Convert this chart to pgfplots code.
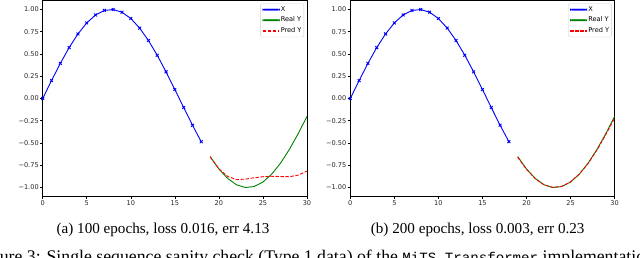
\documentclass[border=0pt]{standalone}
\usepackage{fontspec}
\setmainfont{Liberation Serif}
\setmonofont{Liberation Mono}
\newfontfamily\tickfamily{DejaVu Sans}
\usepackage{pgfplots}
\pgfplotsset{compat=1.18}
\definecolor{mplblue}{RGB}{0,0,255}
\definecolor{mplgreen}{RGB}{0,128,0}
\definecolor{mplred}{RGB}{255,0,0}
\newcommand{\tickfont}{\tickfamily\fontsize{6.6}{7.5}\selectfont}

\pgfplotsset{
  mystyle/.style={
    scale only axis,
    width=264.3bp, height=196bp,
    xmin=0, xmax=30, ymin=-1.1, ymax=1.1,
    axis line style={black, line width=0.6bp},
    tick style={black, line width=0.6bp},
    major tick length=2.6bp,
    tick align=outside,
    xtick pos=bottom, ytick pos=left,
    xtick={0,5,10,15,20,25,30},
    xticklabels={0,5,10,15,20,25,30},
    ytick={-1,-0.75,-0.5,-0.25,0,0.25,0.5,0.75,1},
    yticklabels={−1.00,−0.75,−0.50,−0.25,0.00,0.25,0.50,0.75,1.00},
    ticklabel style={font=\tickfont, text=black!85, inner sep=1.2bp},
    legend cell align=left,
    legend style={at={(1,1)}, xshift=-3bp, yshift=-3bp, anchor=north east,
      draw=black!18, rounded corners=1.5bp, fill=white,
      font=\tickfont, inner xsep=1.5bp, inner ysep=2bp, row sep=2.6bp,
      nodes={inner sep=0.8bp}},
  },
  legX/.style={legend image code/.code={\fill[mplblue] (0bp,-0.65bp) rectangle (16.5bp,0.65bp);}},
  legR/.style={legend image code/.code={\fill[mplgreen] (0bp,-0.65bp) rectangle (16.5bp,0.65bp);}},
  legP/.style={legend image code/.code={\draw[mplred, line width=1.3bp, dash pattern=on 3.4bp off 1.6bp] (0bp,0bp) -- (16.5bp,0bp);}},
}

\begin{document}
\begin{tikzpicture}
\useasboundingbox (0,0) rectangle (640bp,-258bp);
\clip (0,0) rectangle (640bp,-258bp);

% ---------- (a) ----------
\begin{axis}[mystyle, at={(42.7bp,-196.5bp)}, anchor=south west]
\addlegendimage{legX}
\addlegendentry{X}
\addlegendimage{legR}
\addlegendentry{Real Y}
\addlegendimage{legP}
\addlegendentry{Pred Y}
\addplot[mplblue, line width=0.9bp, mark=x, mark size=2bp, forget plot] coordinates {
(0,0.0000) (1,0.2013) (2,0.3944) (3,0.5713) (4,0.7248) (5,0.8486) (6,0.9378)
(7,0.9884) (8,0.9987) (9,0.9685) (10,0.8978) (11,0.7908) (12,0.6514)
(13,0.4853) (14,0.2994) (15,0.1012) (16,-0.1012) (17,-0.2994) (18,-0.4853)};
\addplot[mplgreen, line width=0.9bp, forget plot] coordinates {
(19,-0.6514) (20,-0.7908) (21,-0.8978) (22,-0.9685) (23,-0.9987) (24,-0.9884)
(25,-0.9378) (26,-0.8486) (27,-0.7248) (28,-0.5713) (29,-0.3944) (30,-0.2013)};
\addplot[mplred, line width=0.9bp, dash pattern=on 3.4bp off 1.6bp, forget plot] coordinates {
(19,-0.655) (20,-0.790) (21,-0.875) (22,-0.910) (23,-0.905) (24,-0.890)
(25,-0.878) (26,-0.873) (27,-0.876) (28,-0.878) (29,-0.860) (30,-0.815)};
\end{axis}

% ---------- (b) ----------
\begin{axis}[mystyle, at={(350.3bp,-196.5bp)}, anchor=south west]
\addlegendimage{legX}
\addlegendentry{X}
\addlegendimage{legR}
\addlegendentry{Real Y}
\addlegendimage{legP}
\addlegendentry{Pred Y}
\addplot[mplblue, line width=0.9bp, mark=x, mark size=2bp, forget plot] coordinates {
(0,0.0000) (1,0.2013) (2,0.3944) (3,0.5713) (4,0.7248) (5,0.8486) (6,0.9378)
(7,0.9884) (8,0.9987) (9,0.9685) (10,0.8978) (11,0.7908) (12,0.6514)
(13,0.4853) (14,0.2994) (15,0.1012) (16,-0.1012) (17,-0.2994) (18,-0.4853)};
\addplot[mplgreen, line width=0.9bp, forget plot] coordinates {
(19,-0.6514) (20,-0.7908) (21,-0.8978) (22,-0.9685) (23,-0.9987) (24,-0.9884)
(25,-0.9378) (26,-0.8486) (27,-0.7248) (28,-0.5713) (29,-0.3944) (30,-0.2013)};
\addplot[mplred, line width=0.9bp, dash pattern=on 3.4bp off 1.6bp, forget plot] coordinates {
(19,-0.660) (20,-0.795) (21,-0.900) (22,-0.970) (23,-0.998) (24,-0.986)
(25,-0.935) (26,-0.848) (27,-0.728) (28,-0.578) (29,-0.405) (30,-0.220)};
\end{axis}

% ---------- captions ----------
\node[anchor=base, inner sep=0pt, font=\fontsize{15.2}{17}\selectfont]
  at (163bp,-233.3bp) {(a) 100 epochs, loss 0.016, err 4.13};
\node[anchor=base, inner sep=0pt, font=\fontsize{15.2}{17}\selectfont]
  at (477.7bp,-233.3bp) {(b) 200 epochs, loss 0.003, err 0.23};
\node[anchor=base west, inner sep=0pt, font=\fontsize{17.8}{20}\selectfont]
  at (-24bp,-262bp) {Figure 3: Single sequence sanity check (Type 1 data) of the {\fontsize{14.2}{16}\ttfamily MiTS\_Transformer} implementation.};
\end{tikzpicture}
\end{document}
